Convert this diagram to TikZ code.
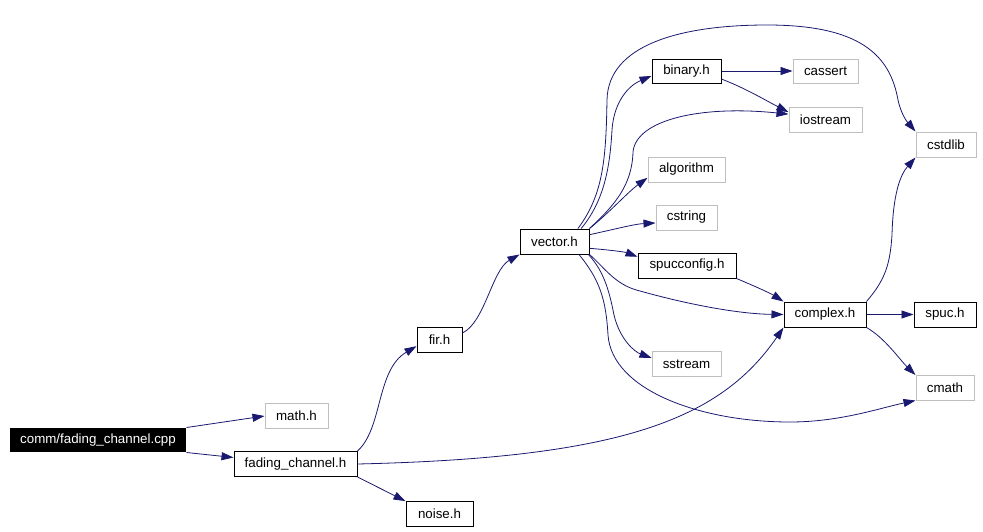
\documentclass[tikz,border=0pt]{standalone}
\usepackage{fontspec}
\setmainfont{Liberation Sans}
\usetikzlibrary{arrows.meta}
\definecolor{edgeblue}{RGB}{25,25,112}
\definecolor{sysgray}{RGB}{191,191,191}

\begin{document}
\begin{tikzpicture}[x=0.75pt,y=0.75pt,yscale=-1,xscale=1,
  box/.style={rectangle,inner sep=0pt,minimum height=18.75pt,font=\fontsize{10}{12}\selectfont,line width=0.75pt},
  src/.style={box,fill=black,text=white,minimum height=18pt},
  hdr/.style={box,draw=black},
  sys/.style={box,draw=sysgray},
  dep/.style={draw=edgeblue,line width=0.6pt,-{Triangle[length=9pt,width=6pt]}}]
\path[use as bounding box] (0,0) rectangle (983,532);

% Nodes
\node[src,minimum width=132pt] (cpp) at (98,440) {comm/fading\_channel.cpp};
\node[sys,minimum width=47.25pt] (math) at (296.5,416) {math.h};
\node[hdr,minimum width=92.25pt] (fch) at (295.5,464) {fading\_channel.h};
\node[hdr,minimum width=50.25pt] (noise) at (439.5,513.5) {noise.h};
\node[hdr,minimum width=33.75pt] (fir) at (439.5,340) {fir.h};
\node[hdr,minimum width=51.75pt] (vector) at (554.5,241.5) {vector.h};
\node[hdr,minimum width=51.75pt,minimum height=18pt] (binary) at (686.5,71) {binary.h};
\node[sys,minimum width=48.75pt,minimum height=18pt] (cassert) at (825.5,71) {cassert};
\node[sys,minimum width=54.75pt] (iostream) at (825.5,120) {iostream};
\node[sys,minimum width=45pt] (cstdlib) at (946,144.5) {cstdlib};
\node[sys,minimum width=57.75pt] (algorithm) at (686.5,169.5) {algorithm};
\node[sys,minimum width=45.75pt] (cstring) at (686.5,217.5) {cstring};
\node[hdr,minimum width=73.5pt] (spucconfig) at (687,265.5) {spucconfig.h};
\node[hdr,minimum width=61.5pt] (complex) at (825,314.5) {complex.h};
\node[hdr,minimum width=46.5pt] (spuc) at (945,314.5) {spuc.h};
\node[sys,minimum width=51.75pt] (sstream) at (686.5,364) {sstream};
\node[sys,minimum width=43.5pt] (cmath) at (945,388) {cmath};

% Straight Lines
\draw[dep] (cpp.north east) -- (math.west);
\draw[dep] (cpp.south east) -- (fch.174);
\draw[dep] (fch.south east) -- (noise.160);
\draw[dep] (binary.east) -- (cassert.west);
\draw[dep] (complex.east) -- (spuc.west);
\draw[dep] (spucconfig.south east) .. controls (752,285) and (770,293) .. (complex.north west);

% Curve Lines
\draw[dep] (fch.north east) .. controls (383,428) and (376,370) .. (fir.195);
\draw[dep] (fir.17) .. controls (485,322) and (492,270) .. (vector.south west);
\draw[dep] (fch.east) .. controls (620,458) and (720,420) .. (complex.south west);
\draw[dep] (vector.29) .. controls (603,195) and (606,160) .. (607,100)
  .. controls (608,45) and (680,25) .. (767,25)
  .. controls (860,25) and (890,55) .. (898,100)
  .. controls (902,118) and (910,125) .. (cstdlib.north west);
\draw[dep] (vector.26) .. controls (605,200) and (610,165) .. (612,130)
  .. controls (614,100) and (630,85) .. (binary.188);
\draw[dep] (vector.north east) .. controls (615,205) and (632,185) .. (633,152)
  .. controls (636,120) and (700,105) .. (iostream.171);
\draw[dep] (vector.north east) .. controls (610,212) and (628,192) .. (algorithm.192);
\draw[dep] (vector.11) .. controls (620,228) and (635,224) .. (cstring.190);
\draw[dep] (vector.349) .. controls (610,250) and (625,252) .. (spucconfig.170);
\draw[dep] (vector.south east) .. controls (605,268) and (615,285) .. (640,291)
  .. controls (690,305) and (740,314) .. (complex.west);
\draw[dep] (vector.339) .. controls (605,272) and (610,295) .. (614,315)
  .. controls (620,340) and (635,352) .. (sstream.170);
\draw[dep] (vector.332) .. controls (600,280) and (606,300) .. (608,335)
  .. controls (612,390) and (700,422) .. (790,422)
  .. controls (840,422) and (880,408) .. (cmath.203);
\draw[dep] (binary.347) .. controls (745,88) and (765,100) .. (iostream.168);
\draw[dep] (complex.north east) .. controls (885,280) and (890,265) .. (892,235)
  .. controls (893,195) and (900,175) .. (cstdlib.south west);
\draw[dep] (complex.south east) .. controls (885,338) and (900,360) .. (cmath.north west);

\end{tikzpicture}
\end{document}
